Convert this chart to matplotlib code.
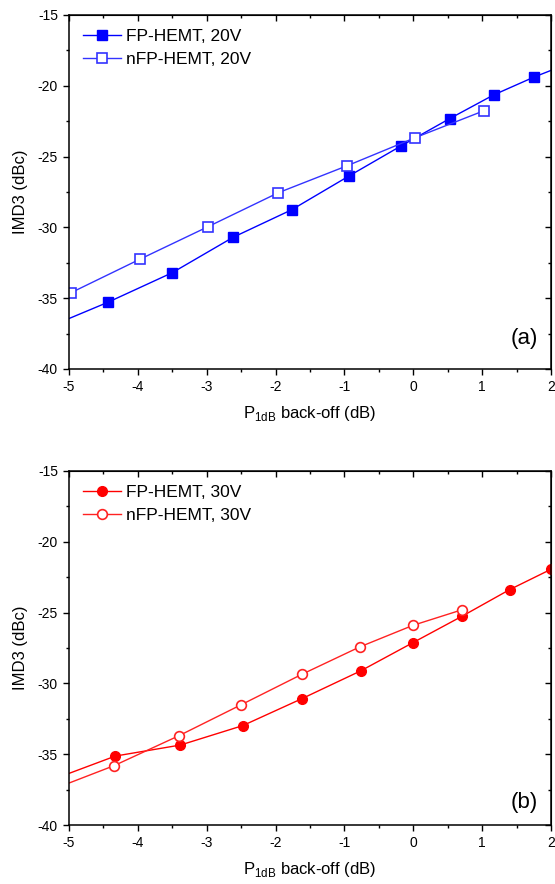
import matplotlib
matplotlib.use('Agg')
import matplotlib.pyplot as plt
from matplotlib.ticker import MultipleLocator

plt.rcParams['font.family'] = ['Liberation Sans', 'DejaVu Sans']
plt.rcParams['axes.unicode_minus'] = False

# panel (a): 20 V
fp20_x = [-5.35, -4.435, -3.50, -2.616, -1.763, -0.940, -0.185, 0.529, 1.166, 1.757, 2.35]
fp20_y = [-37.15, -35.29, -33.20, -30.70, -28.75, -26.39, -24.27, -22.32, -20.65, -19.38, -18.25]
nfp20_x = [-4.969, -3.962, -2.980, -1.958, -0.956, 0.031, 1.028]
nfp20_y = [-34.61, -32.23, -29.95, -27.55, -25.64, -23.66, -21.76]

# panel (b): 30 V
fp30_x = [-4.327, -3.381, -2.477, -1.619, -0.766, -0.005, 0.714, 1.398, 2.0]
fp30_y = [-35.13, -34.35, -32.98, -31.08, -29.12, -27.12, -25.24, -23.38, -21.94]
nfp30_x = [-5.3, -4.347, -3.402, -2.497, -1.619, -0.781, -0.005, 0.714]
nfp30_y = [-37.6, -35.81, -33.69, -31.50, -29.36, -27.43, -25.90, -24.79]
fp30_lead_x = [-5.3, -4.327]
fp30_lead_y = [-36.9, -35.13]

xlabel = 'P$_{\\mathregular{1dB}}$ back-off (dB)'
ylabel = 'IMD3 (dBc)'


def style_axes(ax, tag, tag_y):
    ax.set_xlim(-5, 2)
    ax.set_ylim(-40, -15)
    ax.xaxis.set_major_locator(MultipleLocator(1))
    ax.xaxis.set_minor_locator(MultipleLocator(0.5))
    ax.yaxis.set_major_locator(MultipleLocator(5))
    ax.yaxis.set_minor_locator(MultipleLocator(2.5))
    ax.tick_params(which='major', direction='out', length=4.5, width=1, labelsize=10)
    ax.tick_params(which='minor', direction='out', length=2.5, width=1)
    for s in ax.spines.values():
        s.set_linewidth(1.1)
    # mirrored ticks on top/right, pointing in
    top = ax.secondary_xaxis('top')
    top.xaxis.set_major_locator(MultipleLocator(1))
    top.xaxis.set_minor_locator(MultipleLocator(0.5))
    top.tick_params(which='major', direction='in', length=4.5, width=1, labeltop=False)
    top.tick_params(which='minor', direction='in', length=2.5, width=1)
    right = ax.secondary_yaxis('right')
    right.yaxis.set_major_locator(MultipleLocator(5))
    right.yaxis.set_minor_locator(MultipleLocator(2.5))
    right.tick_params(which='major', direction='in', length=4.5, width=1, labelright=False)
    right.tick_params(which='minor', direction='in', length=2.5, width=1)
    ax.set_xlabel(xlabel, fontsize=12, labelpad=7)
    ax.set_ylabel(ylabel, fontsize=12, labelpad=7)
    ax.text(0.945, tag_y, tag, transform=ax.transAxes, fontsize=16,
            ha='center', va='center')
    leg = ax.legend(loc='upper left', frameon=False, fontsize=12.5,
                    handlelength=2.2, handletextpad=0.3, labelspacing=0.45,
                    borderaxespad=0.4, bbox_to_anchor=(0.0, 1.0))
    return leg


fig = plt.figure(figsize=(5.55, 8.84), dpi=100)

ax1 = fig.add_axes([0.1243, 0.5826, 0.8685, 0.4005])
ax1.plot(fp20_x, fp20_y, color='#0000ff', lw=1, marker='s', ms=6.5,
         mfc='#0000ff', mec='#0000ff', label='FP-HEMT, 20V')
ax1.plot(nfp20_x, nfp20_y, color='#3333ff', lw=1, marker='s', ms=6.5,
         mfc='white', mec='#3333ff', mew=1.2, label='nFP-HEMT, 20V')
style_axes(ax1, '(a)', 0.085)

ax2 = fig.add_axes([0.1243, 0.0667, 0.8685, 0.4005])
ax2.plot(fp30_lead_x, fp30_lead_y, color='#ff0000', lw=1)
ax2.plot(fp30_x, fp30_y, color='#ff0000', lw=1, marker='o', ms=7,
         mfc='#ff0000', mec='#ff0000', label='FP-HEMT, 30V')
ax2.plot(nfp30_x, nfp30_y, color='#ff2222', lw=1, marker='o', ms=7,
         mfc='white', mec='#ff2222', mew=1.2, label='nFP-HEMT, 30V',
         markevery=list(range(1, len(nfp30_x))))
style_axes(ax2, '(b)', 0.065)

fig.savefig('out.png', dpi=100)
